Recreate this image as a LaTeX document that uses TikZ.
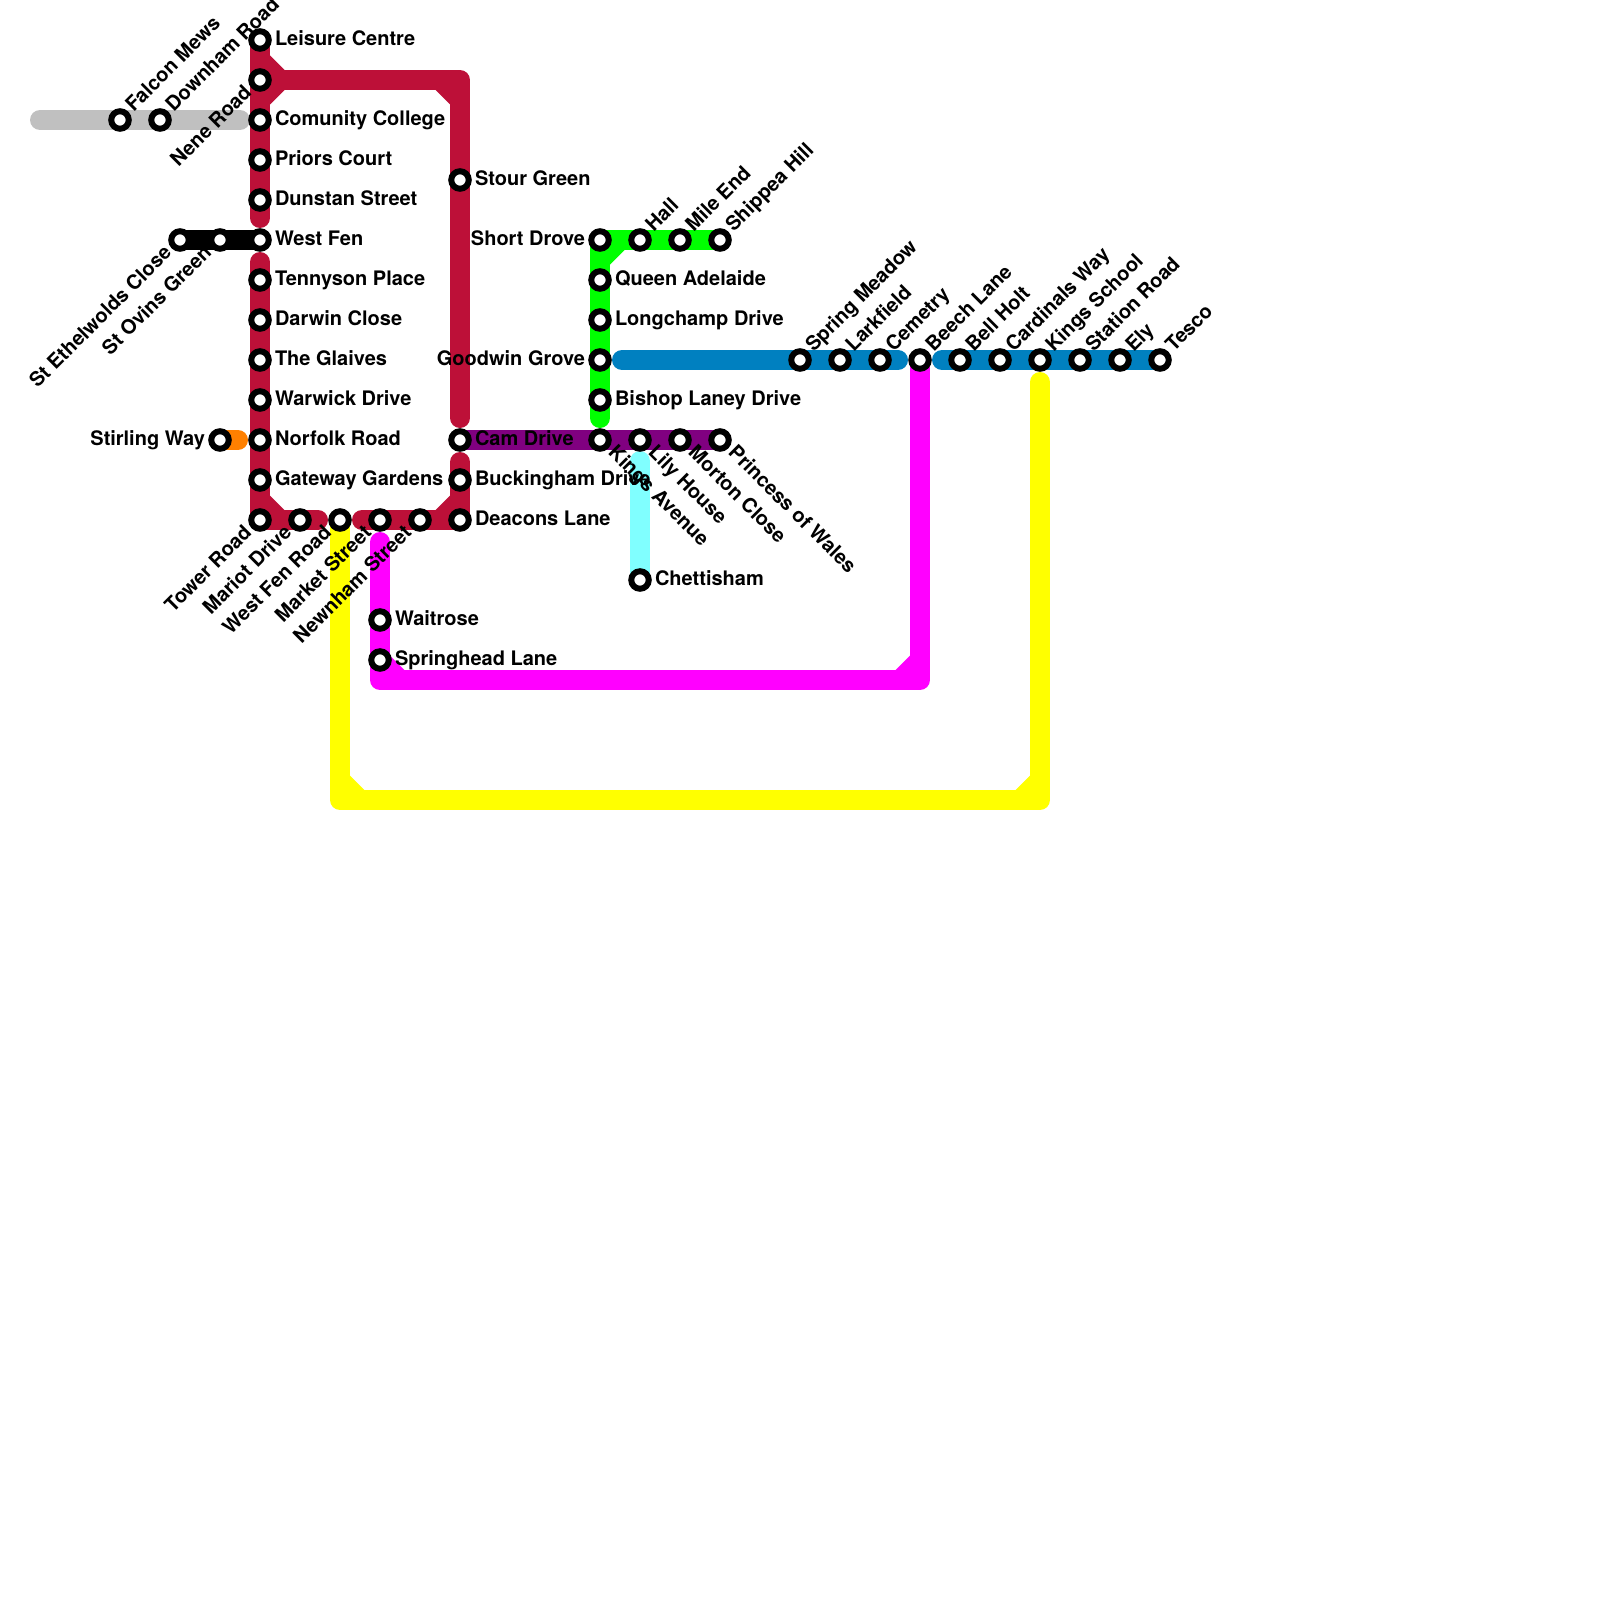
\documentclass[tikz,border=0pt]{standalone}
\usepackage{fontspec}
\setmainfont{TeX Gyre Heros}
\pgfdeclarelayer{lines}
\pgfsetlayers{lines,main}
\definecolor{redline}{HTML}{BD1038}
\definecolor{greyline}{HTML}{C0C0C0}
\definecolor{orangeline}{HTML}{FF8000}
\definecolor{purpleline}{HTML}{800080}
\definecolor{greenline}{HTML}{00FF00}
\definecolor{blueline}{HTML}{0080C0}
\definecolor{magentaline}{HTML}{FF00FF}
\definecolor{yellowline}{HTML}{FFFF00}
\definecolor{cyanline}{HTML}{80FFFF}
\tikzset{
  stationdot/.style={circle,draw=black,fill=white,line width=3pt,minimum size=8.75pt,inner sep=0pt,outer sep=0pt},
  lbl/.style={font=\fontsize{10}{12}\selectfont\bfseries,inner sep=0pt,outer sep=0pt,text=black},
  lblR/.style={lbl,anchor=base west,xshift=7.5pt,yshift=-2.6pt},
  lblL/.style={lbl,anchor=base east,xshift=-7.5pt,yshift=-2.6pt},
  lblUR/.style={lbl,anchor=base west,xshift=6.9pt,yshift=3.7pt,rotate=45},
  lblDL/.style={lbl,anchor=base east,xshift=-3.7pt,yshift=-6.9pt,rotate=45},
  lblDR/.style={lbl,anchor=base west,xshift=3.7pt,yshift=-6.9pt,rotate=-45},
  metro/.style={line width=10pt,line cap=round,line join=round}
}
\newcommand\stn[5]{\node[stationdot] (#1) at (#2,#3) {}; \node[#4] (#1-label) at (#1.center) {#5};}
\newcommand\chamfer[4]{\fill[#1] (#2) ++(10*#3,10*#4) -- ++(14.5*#3,0) -- ++(-14.5*#3,14.5*#4) -- cycle;}
\begin{document}
\begin{tikzpicture}[x=0.5pt,y=-0.5pt]
\useasboundingbox (0,0) rectangle (1600,1600);
% free line ends and corners
\coordinate (greyW) at (40,120); \coordinate (greyE) at (240,120);
\coordinate (orangeE) at (238,440);
\coordinate (redA) at (260,218); \coordinate (redB) at (260,262);
\coordinate (redTR) at (460,80); \coordinate (redC) at (460,418);
\coordinate (redD) at (318,520); \coordinate (redE) at (362,520); \coordinate (redF) at (460,462);
\coordinate (greenS) at (600,418);
\coordinate (blueA) at (622,360); \coordinate (blueB) at (898,360); \coordinate (blueC) at (942,360);
\coordinate (magTop) at (380,542); \coordinate (magBL) at (380,680); \coordinate (magBR) at (920,680);
\coordinate (yelBL) at (340,800); \coordinate (yelBR) at (1040,800); \coordinate (yelTop) at (1040,382);
\coordinate (cyanTop) at (640,461);
% stations
\stn{falcon}{120}{120}{lblUR}{Falcon Mews}
\stn{downham}{160}{120}{lblUR}{Downham Road}
\stn{leisure}{260}{40}{lblR}{Leisure Centre}
\stn{nene}{260}{80}{lblDL}{Nene Road}
\stn{comunity}{260}{120}{lblR}{Comunity College}
\stn{priors}{260}{160}{lblR}{Priors Court}
\stn{dunstan}{260}{200}{lblR}{Dunstan Street}
\stn{ethelwolds}{180}{240}{lblDL}{St Ethelwolds Close}
\stn{ovins}{220}{240}{lblDL}{St Ovins Green}
\stn{westfen}{260}{240}{lblR}{West Fen}
\stn{tennyson}{260}{280}{lblR}{Tennyson Place}
\stn{darwin}{260}{320}{lblR}{Darwin Close}
\stn{glaives}{260}{360}{lblR}{The Glaives}
\stn{warwick}{260}{400}{lblR}{Warwick Drive}
\stn{stirling}{220}{440}{lblL}{Stirling Way}
\stn{norfolk}{260}{440}{lblR}{Norfolk Road}
\stn{gateway}{260}{480}{lblR}{Gateway Gardens}
\stn{tower}{260}{520}{lblDL}{Tower Road}
\stn{mariot}{300}{520}{lblDL}{Mariot Drive}
\stn{westfenrd}{340}{520}{lblDL}{West Fen Road}
\stn{market}{380}{520}{lblDL}{Market Street}
\stn{newnham}{420}{520}{lblDL}{Newnham Street}
\stn{stour}{460}{180}{lblR}{Stour Green}
\stn{cam}{460}{440}{lblR}{Cam Drive}
\stn{buckingham}{460}{480}{lblR}{Buckingham Drive}
\stn{deacons}{460}{520}{lblR}{Deacons Lane}
\stn{waitrose}{380}{620}{lblR}{Waitrose}
\stn{springhead}{380}{660}{lblR}{Springhead Lane}
\stn{short}{600}{240}{lblL}{Short Drove}
\stn{queen}{600}{280}{lblR}{Queen Adelaide}
\stn{longchamp}{600}{320}{lblR}{Longchamp Drive}
\stn{goodwin}{600}{360}{lblL}{Goodwin Grove}
\stn{bishop}{600}{400}{lblR}{Bishop Laney Drive}
\stn{kingsav}{600}{440}{lblDR}{Kings Avenue}
\stn{hall}{640}{240}{lblUR}{Hall}
\stn{mile}{680}{240}{lblUR}{Mile End}
\stn{shippea}{720}{240}{lblUR}{Shippea Hill}
\stn{lily}{640}{440}{lblDR}{Lily House}
\stn{morton}{680}{440}{lblDR}{Morton Close}
\stn{princess}{720}{440}{lblDR}{Princess of Wales}
\stn{chettisham}{640}{580}{lblR}{Chettisham}
\stn{spring}{800}{360}{lblUR}{Spring Meadow}
\stn{larkfield}{840}{360}{lblUR}{Larkfield}
\stn{cemetry}{880}{360}{lblUR}{Cemetry}
\stn{beech}{920}{360}{lblUR}{Beech Lane}
\stn{bell}{960}{360}{lblUR}{Bell Holt}
\stn{cardinals}{1000}{360}{lblUR}{Cardinals Way}
\stn{kingssch}{1040}{360}{lblUR}{Kings School}
\stn{stationrd}{1080}{360}{lblUR}{Station Road}
\stn{ely}{1120}{360}{lblUR}{Ely}
\stn{tesco}{1160}{360}{lblUR}{Tesco}
% lines
\begin{pgfonlayer}{lines}
\draw[metro,greyline] (greyW) -- (greyE);
\draw[metro,black] (ethelwolds.center) -- (westfen.center);
\draw[metro,orangeline] (stirling.center) -- (orangeE);
\draw[metro,yellowline] (westfenrd.center) -- (yelBL) -- (yelBR) -- (yelTop);
\chamfer{yellowline}{yelBL}{1}{-1}
\chamfer{yellowline}{yelBR}{-1}{-1}
\draw[metro,magentaline] (magTop) -- (magBL) -- (magBR) -- (beech.center);
\chamfer{magentaline}{magBL}{1}{-1}
\chamfer{magentaline}{magBR}{-1}{-1}
\draw[metro,cyanline] (cyanTop) -- (chettisham.center);
\draw[metro,greenline] (shippea.center) -- (short.center) -- (greenS);
\chamfer{greenline}{short}{1}{1}
\draw[metro,blueline] (blueA) -- (blueB);
\draw[metro,blueline] (blueC) -- (tesco.center);
\draw[metro,purpleline] (cam.center) -- (princess.center);
\draw[metro,redline] (leisure.center) -- (redA);
\draw[metro,redline] (nene.center) -- (redTR) -- (redC);
\chamfer{redline}{nene}{1}{1}
\chamfer{redline}{nene}{1}{-1}
\chamfer{redline}{redTR}{-1}{1}
\draw[metro,redline] (redB) -- (tower.center) -- (redD);
\chamfer{redline}{tower}{1}{-1}
\draw[metro,redline] (redE) -- (deacons.center) -- (redF);
\chamfer{redline}{deacons}{-1}{-1}
\end{pgfonlayer}
\end{tikzpicture}
\end{document}
